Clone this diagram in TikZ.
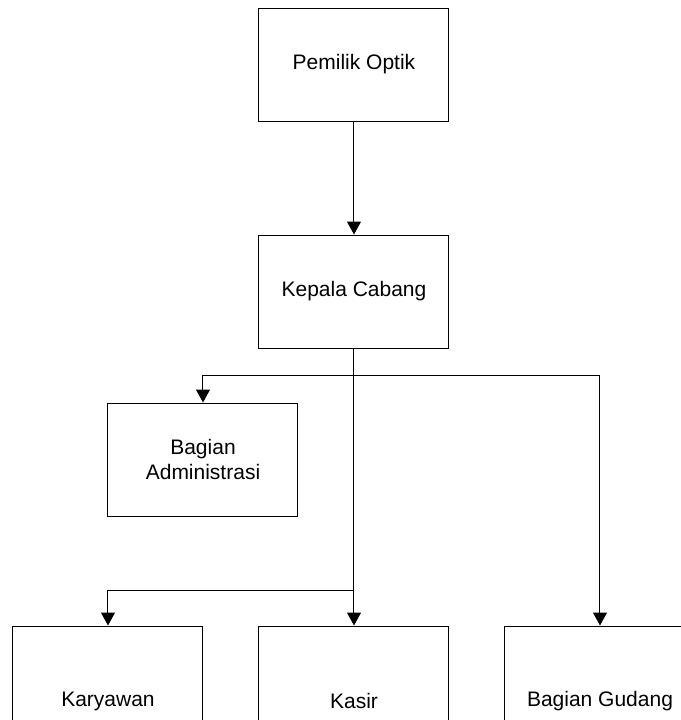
\documentclass[tikz,border=0pt]{standalone}
\usepackage{fontspec}
\setmainfont{Liberation Sans}
\usetikzlibrary{shapes,arrows.meta,positioning}

\begin{document}
\begin{tikzpicture}[
    x=0.5pt, y=-0.5pt,
    font=\fontsize{10.5}{12.6}\selectfont,
    unitbox/.style={rectangle, draw, line width=0.5pt, minimum width=95pt, minimum height=56.5pt, inner sep=0pt, align=center},
    staffbox/.style={unitbox, minimum height=75pt},
    arrow/.style={-{Triangle[width=7pt,length=6.5pt]}, line width=0.5pt}
]

% canvas
\useasboundingbox (0,0) rectangle (681,720);
\clip (0,0) rectangle (681,720);

% Top management
\node[unitbox] (pemilik) at (354,64.5) {Pemilik Optik};
\node[unitbox, below=56.5pt of pemilik] (kepala) {Kepala Cabang};

% Administration
\node[unitbox] (admin) at (203,459.5) {Bagian\\Administrasi};

% Staff row
\node[staffbox] (karyawan) at (108,701) {Karyawan};
\node[staffbox] (kasir) at (354,701) {Kasir};
\node[staffbox] (gudang) at (600,701) {Bagian Gudang};

% Branch points
\coordinate (split) at (354,375);
\coordinate (splitlow) at (354,590);

% Arrows
\draw[arrow] (pemilik.south) -- (kepala.north);
\draw[line width=0.5pt] (kepala.south) -- (split);
\draw[arrow] (split) -| (admin.north);
\draw[arrow] (split) -| (gudang.north);
\draw[arrow] (split) -- (kasir.north);
\draw[arrow] (splitlow) -| (karyawan.north);

\end{tikzpicture}
\end{document}
